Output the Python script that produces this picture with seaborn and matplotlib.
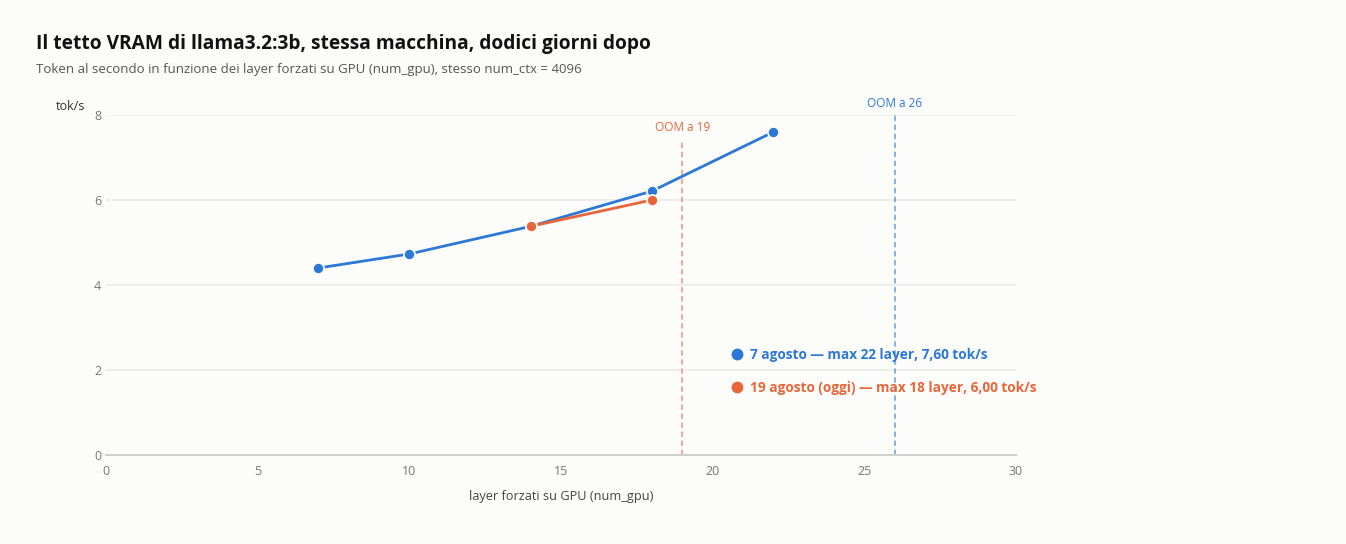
import pandas as pd
import matplotlib
matplotlib.use("Agg")
import matplotlib.pyplot as plt
import seaborn as sns
from matplotlib.lines import Line2D

# data
layers_aug7 = [7, 10, 14, 18, 22]
toks_aug7 = [4.40, 4.73, 5.38, 6.21, 7.60]
layers_aug19 = [14, 18]
toks_aug19 = [5.38, 6.00]
oom_aug7 = 26
oom_aug19 = 19
series_labels = ["7 agosto — max 22 layer, 7,60 tok/s",
                 "19 agosto (oggi) — max 18 layer, 6,00 tok/s"]
x_ticks = [0, 5, 10, 15, 20, 25, 30]
y_ticks = [0, 2, 4, 6, 8]

BLUE = "#2b78d6"
ORANGE = "#e8663a"
BG = "#fcfcfb"


def plot_vram_ceiling(output_path="out.png"):
    sns.set_theme(style="white")
    plt.rcParams["font.family"] = ["Open Sans", "DejaVu Sans"]

    df = pd.concat([
        pd.DataFrame({"layer": layers_aug7, "toks": toks_aug7, "serie": series_labels[0]}),
        pd.DataFrame({"layer": layers_aug19, "toks": toks_aug19, "serie": series_labels[1]}),
    ])

    fig = plt.figure(figsize=(13.46, 5.44), dpi=100, facecolor=BG)
    ax = fig.add_axes([0.0788, 0.1636, 0.676, 0.625], facecolor=BG)

    for y in y_ticks[1:]:
        ax.axhline(y, color="#ebebea", lw=1.2, zorder=0)

    ax.axvline(oom_aug19, ymax=7.4 / 8, color=ORANGE, alpha=0.6, lw=1.3, ls=(0, (3, 2)), zorder=1)
    ax.axvline(oom_aug7, color=BLUE, alpha=0.6, lw=1.3, ls=(0, (3, 2)), zorder=1)
    ax.text(oom_aug19, 7.55, f"OOM a {oom_aug19}", color=ORANGE, fontsize=8.5, ha="center", va="bottom")
    ax.text(oom_aug7, 8.12, f"OOM a {oom_aug7}", color=BLUE, fontsize=8.5, ha="center", va="bottom")

    sns.lineplot(data=df, x="layer", y="toks", hue="serie", palette=[BLUE, ORANGE],
                 marker="o", markersize=8, markeredgecolor="white", markeredgewidth=1.2,
                 linewidth=2, legend=False, ax=ax, zorder=3)

    ax.set_xlim(0, 30)
    ax.set_ylim(0, 8)
    ax.set_xticks(x_ticks)
    ax.set_yticks(y_ticks)
    ax.tick_params(axis="both", length=0, labelsize=9, labelcolor="#777777")
    ax.tick_params(axis="x", pad=7)
    for s in ["top", "right", "left"]:
        ax.spines[s].set_visible(False)
    ax.spines["bottom"].set_color("#cfcfcc")
    ax.spines["bottom"].set_linewidth(1.5)

    ax.set_xlabel("layer forzati su GPU (num_gpu)", fontsize=9.2, color="#444444", labelpad=9)
    ax.set_ylabel("")
    fig.text(56 / 1346, 1 - 106 / 544, "tok/s", fontsize=9, color="#333333", ha="left", va="center")

    handles = [Line2D([], [], ls="", marker="o", color=c, markersize=7.5) for c in (BLUE, ORANGE)]
    ax.legend(handles, series_labels, loc="upper left", bbox_to_anchor=(0.672, 0.35),
              frameon=False, labelcolor=[BLUE, ORANGE], handletextpad=0.5,
              handlelength=1.0, labelspacing=1.35, prop={"weight": "bold", "size": 9.8})

    fig.text(36 / 1346, 1 - 44 / 544, "Il tetto VRAM di llama3.2:3b, stessa macchina, dodici giorni dopo",
             fontsize=13.8, fontweight="bold", color="#111111", ha="left", va="center")
    fig.text(36 / 1346, 1 - 70 / 544,
             "Token al secondo in funzione dei layer forzati su GPU (num_gpu), stesso num_ctx = 4096",
             fontsize=9.5, color="#555555", ha="left", va="center")

    fig.savefig(output_path, dpi=100, facecolor=BG)


if __name__ == "__main__":
    plot_vram_ceiling()
